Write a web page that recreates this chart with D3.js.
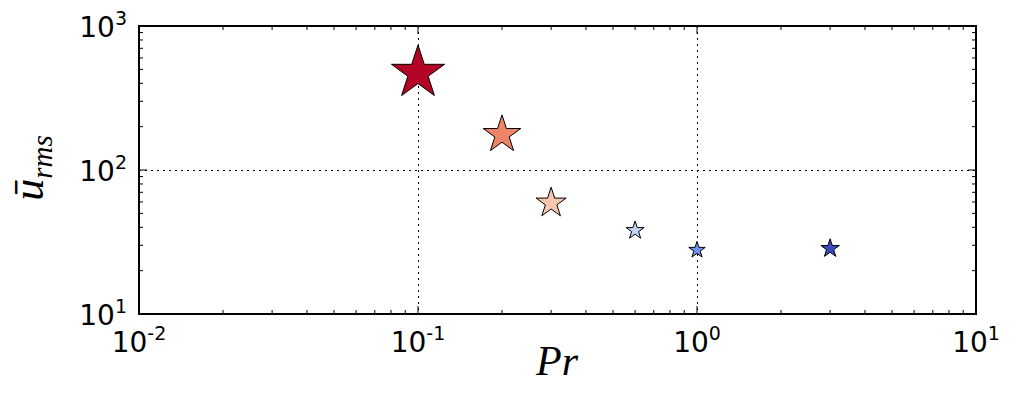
<!DOCTYPE html>
<html><head><meta charset="utf-8">
<script src="https://cdn.jsdelivr.net/npm/d3@7"></script>
<style>body{margin:0;background:#fff;} svg{display:block;}</style>
</head><body>
<svg id="c" width="1012" height="395"></svg>
<script>
const prandtl = [0.1, 0.2, 0.3, 0.6, 1.0, 3.0];
const uRms = [472, 176, 59, 38, 27.8, 28.5];
const markerArea = [780, 390, 250, 90, 75, 95];
const xTickExps = [-2, -1, 0, 1];
const yTickExps = [1, 2, 3];
const palette = ["#b40426", "#ee8468", "#f4c6ae", "#c0d4f5", "#6f92f3", "#3b4cc0"];

const svg = d3.select("#c");
const L = 139, R = 976, T = 26, B = 314;
const x = d3.scaleLog().domain([0.01, 10]).range([L, R]);
const y = d3.scaleLog().domain([10, 1000]).range([B, T]);
const rScale = d3.scaleSqrt().domain([0, 1]).range([0, 1]);

// grid (major only)
const g = svg.append("g").attr("shape-rendering", "crispEdges");
[0.1, 1].forEach(v => g.append("line").attr("x1", Math.round(x(v)) + 0.5).attr("x2", Math.round(x(v)) + 0.5).attr("y1", T).attr("y2", B)
  .attr("stroke", "#000").attr("stroke-width", 1.3).attr("stroke-dasharray", "2,4"));
[100].forEach(v => g.append("line").attr("y1", Math.round(y(v)) + 0.5).attr("y2", Math.round(y(v)) + 0.5).attr("x1", L).attr("x2", R)
  .attr("stroke", "#000").attr("stroke-width", 1.3).attr("stroke-dasharray", "2,4"));

// ticks
const ticks = svg.append("g").attr("stroke", "#000").attr("stroke-width", 1);
const xMinor = [], yMinor = [];
for (let e = -2; e < 1; e++) for (let k = 2; k <= 9; k++) xMinor.push(k * Math.pow(10, e));
for (let e = 1; e < 3; e++) for (let k = 2; k <= 9; k++) yMinor.push(k * Math.pow(10, e));
xTickExps.forEach(e => { const px = x(Math.pow(10, e));
  ticks.append("line").attr("x1", px).attr("x2", px).attr("y1", B).attr("y2", B - 8);
  ticks.append("line").attr("x1", px).attr("x2", px).attr("y1", T).attr("y2", T + 8); });
xMinor.forEach(v => { const px = x(v);
  ticks.append("line").attr("x1", px).attr("x2", px).attr("y1", B).attr("y2", B - 4);
  ticks.append("line").attr("x1", px).attr("x2", px).attr("y1", T).attr("y2", T + 4); });
yTickExps.forEach(e => { const py = y(Math.pow(10, e));
  ticks.append("line").attr("y1", py).attr("y2", py).attr("x1", L).attr("x2", L + 8);
  ticks.append("line").attr("y1", py).attr("y2", py).attr("x1", R).attr("x2", R - 8); });
yMinor.forEach(v => { const py = y(v);
  ticks.append("line").attr("y1", py).attr("y2", py).attr("x1", L).attr("x2", L + 4);
  ticks.append("line").attr("y1", py).attr("y2", py).attr("x1", R).attr("x2", R - 4); });

// stars
function starPath(r) {
  const ri = r * 0.381966; let p = "";
  for (let i = 0; i < 10; i++) {
    const rr = i % 2 === 0 ? r : ri;
    const a = -Math.PI / 2 + i * Math.PI / 5;
    p += (i === 0 ? "M" : "L") + (rr * Math.cos(a)).toFixed(2) + "," + (rr * Math.sin(a)).toFixed(2);
  }
  return p + "Z";
}
svg.append("g").selectAll("path").data(prandtl).join("path")
  .attr("transform", (d, i) => `translate(${x(d)},${y(uRms[i])})`)
  .attr("d", (d, i) => starPath(rScale(markerArea[i])))
  .attr("fill", (d, i) => palette[i]).attr("stroke", "#000").attr("stroke-width", 1);

// frame
svg.append("rect").attr("x", L).attr("y", T).attr("width", R - L).attr("height", B - T)
  .attr("fill", "none").attr("stroke", "#000").attr("stroke-width", 2);

// tick labels
const font = "DejaVu Sans";
xTickExps.forEach(e => {
  const t = svg.append("text").attr("x", x(Math.pow(10, e))).attr("y", B + 38)
    .attr("text-anchor", "middle").attr("font-family", font).attr("font-size", 28).attr("fill", "#000");
  t.append("tspan").text("10");
  t.append("tspan").attr("dy", -12).attr("font-size", 19).text(e < 0 ? "-" + (-e) : String(e));
});
yTickExps.forEach(e => {
  const t = svg.append("text").attr("x", L - 12).attr("y", y(Math.pow(10, e)) + 10.5)
    .attr("text-anchor", "end").attr("font-family", font).attr("font-size", 28).attr("fill", "#000");
  t.append("tspan").text("10");
  t.append("tspan").attr("dy", -12).attr("font-size", 19).text(String(e));
});

// axis labels
svg.append("text").attr("x", 557).attr("y", 375).attr("text-anchor", "middle")
  .attr("font-family", "Liberation Serif").attr("font-style", "italic").attr("font-size", 42).text("Pr");
const yl = svg.append("text").attr("transform", "translate(43,168) rotate(-90)").attr("text-anchor", "middle")
  .attr("font-family", "Liberation Serif").attr("font-style", "italic").attr("font-size", 44);
yl.append("tspan").text("ū");
yl.append("tspan").attr("dy", 9).attr("font-size", 29).text("rms");
</script>
</body></html>
